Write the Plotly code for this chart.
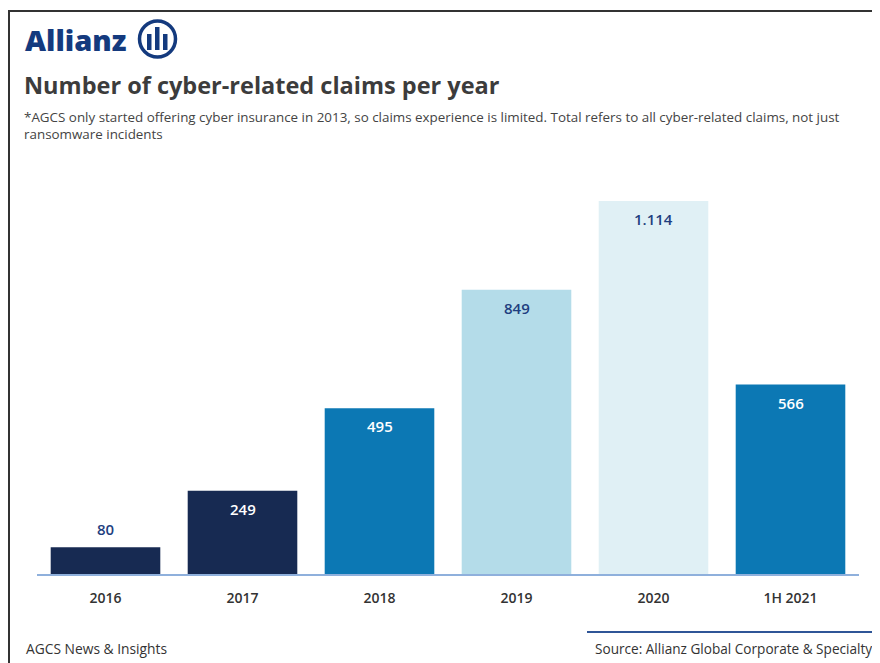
import plotly.graph_objects as go

categories = ["2016", "2017", "2018", "2019", "2020", "1H 2021"]
claims = [80, 249, 495, 849, 1114, 566]
value_labels = ["80", "249", "495", "849", "1.114", "566"]
bar_colors = ["#172a52", "#172a52", "#0c78b4", "#b4dce9", "#e0f0f5", "#0c78b4"]
label_colors = ["#1f3f7f", "#ffffff", "#ffffff", "#1f3f7f", "#1f3f7f", "#ffffff"]
label_inside = [False, True, True, True, True, True]

# page is offset by the 8px body margin
OFF = 8
W, H = 880 - OFF, 663 - OFF
L, R, T, B = 37 - OFF, 21, 189 - OFF, 89
PW, PH = W - L - R, H - T - B


def px(x):  # reference page x -> paper
    return (x - OFF - L) / PW


def py(y):  # reference page y -> paper
    return (H - B - (y - OFF)) / PH


FONT = "Open Sans"

fig = go.Figure(
    go.Bar(
        x=categories,
        y=claims,
        marker=dict(color=bar_colors, line=dict(width=0)),
        width=0.8,
        hoverinfo="skip",
    )
)

annotations = []
for i, (v, t, col, ins) in enumerate(zip(claims, value_labels, label_colors, label_inside)):
    annotations.append(dict(
        x=i, y=v, xref="x", yref="y", text=t, showarrow=False,
        yshift=-18 if ins else 18,
        font=dict(family=FONT, size=15, color=col, weight=600),
    ))

annotations += [
    dict(x=px(23), y=py(39), xref="paper", yref="paper", xanchor="left", yanchor="middle",
         text="Allianz", showarrow=False,
         font=dict(family=FONT, size=29, color="#143a7e", weight=800)),
    dict(x=px(22), y=py(85), xref="paper", yref="paper", xanchor="left", yanchor="middle",
         text="<b>Number of cyber-related claims per year</b>", showarrow=False,
         font=dict(family=FONT, size=23.5, color="#3c3c3c")),
    dict(x=px(22), y=py(106), xref="paper", yref="paper", xanchor="left", yanchor="top",
         align="left",
         text="*AGCS only started offering cyber insurance in 2013, so claims experience is limited. "
              "Total refers to all cyber-related claims, not just<br>ransomware incidents",
         showarrow=False, font=dict(family=FONT, size=13.4, color="#444444")),
    dict(x=px(24), y=py(648), xref="paper", yref="paper", xanchor="left", yanchor="middle",
         text="AGCS News &amp; Insights", showarrow=False,
         font=dict(family=FONT, size=13.8, color="#333333")),
    dict(x=px(874), y=py(648), xref="paper", yref="paper", xanchor="right", yanchor="middle",
         text="Source: Allianz Global Corporate &amp; Specialty", showarrow=False,
         font=dict(family=FONT, size=13.6, color="#333333")),
]

shapes = [
    # frame
    dict(type="line", xref="paper", yref="paper", x0=px(8), x1=px(880), y0=py(11), y1=py(11),
         line=dict(color="#333333", width=2)),
    dict(type="line", xref="paper", yref="paper", x0=px(9), x1=px(9), y0=py(11), y1=py(663),
         line=dict(color="#333333", width=2)),
    # source rule
    dict(type="line", xref="paper", yref="paper", x0=px(587), x1=px(880), y0=py(632), y1=py(632),
         line=dict(color="#2f5597", width=2)),
    # logo circle
    dict(type="circle", xref="paper", yref="paper", x0=px(139.5), x1=px(175.5), y0=py(21), y1=py(57),
         line=dict(color="#143a7e", width=3.5)),
    # logo bars
    dict(type="rect", xref="paper", yref="paper", x0=px(147), x1=px(151.5), y0=py(34), y1=py(50),
         fillcolor="#143a7e", line=dict(width=0)),
    dict(type="rect", xref="paper", yref="paper", x0=px(155), x1=px(159.5), y0=py(27), y1=py(50),
         fillcolor="#143a7e", line=dict(width=0)),
    dict(type="rect", xref="paper", yref="paper", x0=px(163), x1=px(167.5), y0=py(34), y1=py(50),
         fillcolor="#143a7e", line=dict(width=0)),
]

fig.update_layout(
    width=W, height=H,
    margin=dict(l=L, r=R, t=T, b=B, pad=0),
    paper_bgcolor="white", plot_bgcolor="white",
    showlegend=False,
    bargap=0.2,
    annotations=annotations,
    shapes=shapes,
    xaxis=dict(
        type="category",
        range=[-0.5, len(categories) - 0.5],
        showline=True, linecolor="#8fb0dc", linewidth=1.5,
        ticks="", showgrid=False, zeroline=False,
        tickfont=dict(family=FONT, size=14, color="#333333", weight=600),
        ticklabelstandoff=10,
        fixedrange=True,
    ),
    yaxis=dict(
        range=[0, 1150], visible=False, showgrid=False, zeroline=False, fixedrange=True,
    ),
)

fig.write_html("out.html")
